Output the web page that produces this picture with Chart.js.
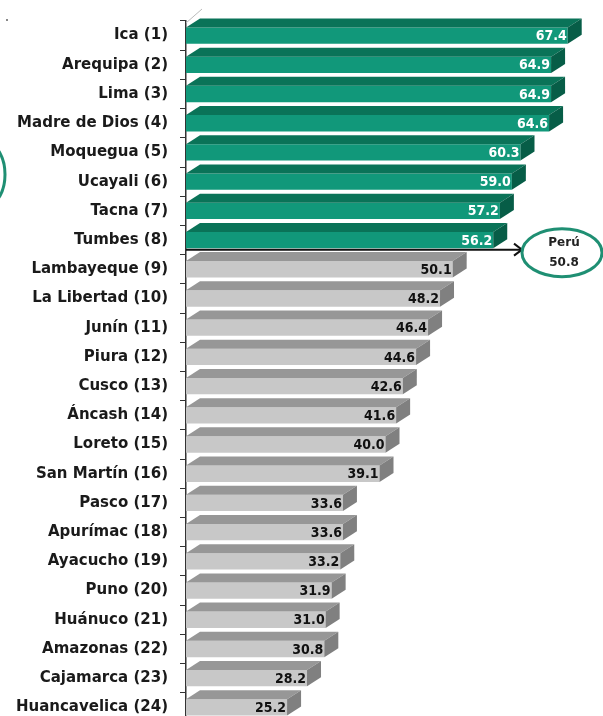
<!DOCTYPE html>
<html>
<head>
<meta charset="utf-8">
<script src="https://cdn.jsdelivr.net/npm/chart.js@4"></script>
<style>
  html, body { margin:0; padding:0; background:#fff; overflow:hidden; }
  #wrap { width:603px; height:722px; position:relative; }
</style>
</head>
<body>
<div id="wrap"><canvas id="c" width="603" height="722"></canvas></div>
<script>
// regions ranked, values
const REGIONS = ["Ica (1)","Arequipa (2)","Lima (3)","Madre de Dios (4)","Moquegua (5)","Ucayali (6)","Tacna (7)","Tumbes (8)",
  "Lambayeque (9)","La Libertad (10)","Junín (11)","Piura (12)","Cusco (13)","Áncash (14)","Loreto (15)","San Martín (16)",
  "Pasco (17)","Apurímac (18)","Ayacucho (19)","Puno (20)","Huánuco (21)","Amazonas (22)","Cajamarca (23)","Huancavelica (24)"];
const VALUES = [67.4,64.9,64.9,64.6,60.3,59.0,57.2,56.2,50.1,48.2,46.4,44.6,42.6,41.6,40.0,39.1,33.6,33.6,33.2,31.9,31.0,30.8,28.2,25.2];
const PERU_AVG = 50.8;
const X_MIN = 10, X_MAX = 70;

const GREEN = {front:'#11987a', top:'#0a7358', side:'#075d47', text:'#ffffff'};
const GRAY  = {front:'#c8c8c8', top:'#979797', side:'#808080', text:'#111111'};
const pal = v => v > PERU_AVG ? GREEN : GRAY;
const DX = 14, DY = 9;

// draws top + side faces of each bar, then the value labels
const bars3d = {
  id:'bars3d',
  afterDatasetsDraw(chart){
    const ctx = chart.ctx, meta = chart.getDatasetMeta(0), left = chart.chartArea.left;
    meta.data.forEach((el,i)=>{
      const p = el.getProps(['x','y','base','height'], true);
      const c = pal(VALUES[i]);
      const b = Math.max(p.base, left);
      const top = p.y - p.height/2, bot = p.y + p.height/2;
      ctx.save();
      ctx.fillStyle = c.top;
      ctx.beginPath();
      ctx.moveTo(b, top); ctx.lineTo(p.x, top); ctx.lineTo(p.x+DX, top-DY); ctx.lineTo(b+DX, top-DY);
      ctx.closePath(); ctx.fill();
      ctx.fillStyle = c.side;
      ctx.beginPath();
      ctx.moveTo(p.x, top); ctx.lineTo(p.x+DX, top-DY); ctx.lineTo(p.x+DX, bot-DY); ctx.lineTo(p.x, bot);
      ctx.closePath(); ctx.fill();
      ctx.fillStyle = c.text;
      ctx.font = 'bold 14px "DejaVu Sans Condensed", "Liberation Sans Narrow", sans-serif';
      ctx.textAlign = 'right'; ctx.textBaseline = 'middle';
      ctx.fillText(VALUES[i].toFixed(1), p.x - 1, p.y + 1);
      ctx.restore();
    });
  }
};

// Perú average arrow + ellipses
const peruNote = {
  id:'peruNote',
  afterDraw(chart){
    const ctx = chart.ctx, ys = chart.scales.y, area = chart.chartArea;
    const k = VALUES.filter(v => v > PERU_AVG).length;
    const y = (ys.getPixelForValue(k-1) + ys.getPixelForValue(k))/2 - 5;
    const tipX = area.right - 63;
    ctx.save();
    ctx.strokeStyle = '#111'; ctx.lineWidth = 2;
    ctx.beginPath(); ctx.moveTo(area.left, y); ctx.lineTo(tipX - 2, y); ctx.stroke();
    ctx.beginPath(); ctx.moveTo(tipX - 8, y - 6); ctx.lineTo(tipX, y); ctx.lineTo(tipX - 8, y + 6); ctx.stroke();
    const cx = tipX + 40, cy = y + 3;
    ctx.strokeStyle = '#1f8f73'; ctx.lineWidth = 3;
    ctx.beginPath(); ctx.ellipse(cx, cy, 40, 24, 0, 0, Math.PI*2); ctx.stroke();
    ctx.fillStyle = '#222'; ctx.font = 'bold 12px "DejaVu Sans", sans-serif';
    ctx.textAlign = 'center'; ctx.textBaseline = 'middle';
    ctx.fillText('Perú', cx + 2, cy - 10);
    ctx.fillText(PERU_AVG.toFixed(1), cx + 2, cy + 10);
    // partial ellipse at left edge
    const y5 = ys.getPixelForValue(4);
    ctx.beginPath(); ctx.ellipse(-12, y5 + 22, 17, 30, 0, 0, Math.PI*2); ctx.stroke();
    // small dot and back wall edge
    ctx.fillStyle = '#888'; ctx.fillRect(6, 19, 2, 2);
    ctx.strokeStyle = '#bbb'; ctx.lineWidth = 1;
    ctx.beginPath(); ctx.moveTo(area.left, area.top + 2); ctx.lineTo(area.left + 16, area.top - 12); ctx.stroke();
    ctx.restore();
  }
};

new Chart(document.getElementById('c').getContext('2d'), {
  type:'bar',
  data:{ labels:REGIONS, datasets:[{ data:VALUES, backgroundColor:VALUES.map(v=>pal(v).front),
    barPercentage:0.56, categoryPercentage:1, borderWidth:0 }]},
  options:{
    indexAxis:'y', responsive:false, animation:false,
    layout:{ padding:{ top:21, right:18, bottom:0, left:0 } },
    plugins:{ legend:{display:false}, tooltip:{enabled:false} },
    scales:{
      x:{ display:false, min:X_MIN, max:X_MAX },
      y:{
        afterFit(s){ s.width = 186; s.paddingTop = 0; s.paddingBottom = 0; },
        grid:{ offset:true, drawOnChartArea:false, tickLength:6, color:'#333' },
        border:{ display:true, color:'#333', width:1.5 },
        ticks:{ padding:12, color:'#1a1a1a', font:{ family:'"DejaVu Sans", sans-serif', weight:'bold', size:15 } }
      }
    }
  },
  plugins:[bars3d, peruNote]
});
</script>
</body>
</html>
